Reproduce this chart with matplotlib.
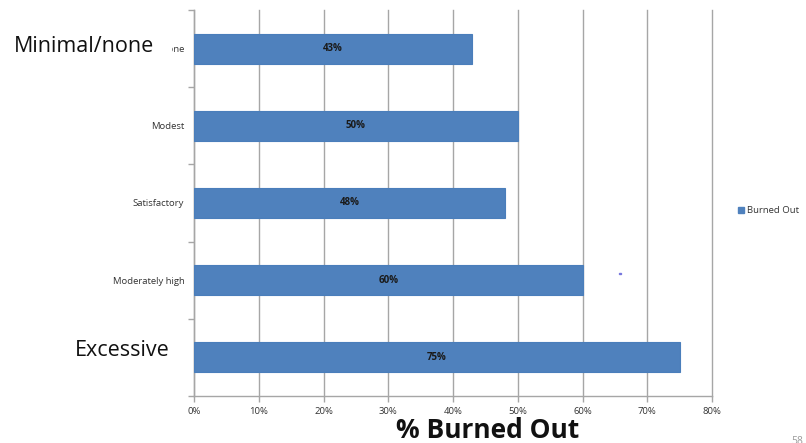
import matplotlib
matplotlib.use("Agg")
import matplotlib.pyplot as plt
import matplotlib.patches as patches
from matplotlib.ticker import FixedLocator

categories = ["Minimal/none", "Modest", "Satisfactory", "Moderately high", "Excessive"]
burned_out = [43, 50, 48, 60, 75]
x_ticks = [0, 10, 20, 30, 40, 50, 60, 70, 80]

BAR = "#4F81BD"
EDGE = "#4A7EBB"
GRID = "#A6A6A6"

plt.rcParams["font.family"] = ["Open Sans", "DejaVu Sans"]

fig = plt.figure(figsize=(8.06, 4.43), dpi=100)
ax = fig.add_axes([194 / 806, 1 - 396 / 443, (712 - 194) / 806, (396 - 10) / 443])

ypos = list(range(len(categories)))
bars = ax.barh(ypos, burned_out, height=0.39, color=BAR, edgecolor=EDGE,
               linewidth=0.8, label="Burned Out", zorder=3)
for b, v in zip(bars, burned_out):
    ax.text(v / 2, b.get_y() + b.get_height() / 2, f"{v}%", ha="center",
            va="center", fontsize=7, fontweight="bold", color="#1a1a1a", zorder=4)

ax.set_xlim(0, 80)
ax.set_ylim(len(categories) - 0.5, -0.5)
ax.set_xticks(x_ticks)
ax.set_xticklabels([f"{t}%" for t in x_ticks], fontsize=6.8, color="#333333")
ax.set_yticks(ypos)
ax.set_yticklabels(categories, fontsize=6.8, color="#333333")
ax.yaxis.set_minor_locator(FixedLocator([i - 0.5 for i in range(len(categories) + 1)]))
ax.tick_params(axis="y", which="major", length=0, pad=7)
ax.tick_params(axis="y", which="minor", length=4, color=GRID, width=1)
ax.tick_params(axis="x", length=4, color=GRID, width=1, pad=4)
ax.grid(axis="x", color=GRID, linewidth=1, zorder=0)
for gl in ax.get_xgridlines():
    gl.set_clip_on(False)
for s in ["top", "right"]:
    ax.spines[s].set_visible(False)
for s in ["left", "bottom"]:
    ax.spines[s].set_color(GRID)
    ax.spines[s].set_linewidth(1)

# legend entry on the right
fig.patches.append(patches.Rectangle((738 / 806, 1 - 213 / 443), 6 / 806, 6 / 443,
                                     transform=fig.transFigure, color=BAR))
fig.text(747 / 806, 1 - 210 / 443, "Burned Out", fontsize=6.8, color="#333333",
         va="center", ha="left")

# stray speck to the right of the fourth bar
fig.patches.append(patches.Rectangle((619 / 806, 1 - 274 / 443), 2 / 806, 1.2 / 443,
                                     transform=fig.transFigure, color="#7777dd"))

# large overlay labels on white boxes
fig.patches.append(patches.Rectangle((0, 1 - 62 / 443), 171 / 806, 30 / 443,
                                     transform=fig.transFigure, color="white", zorder=5))
fig.text(14 / 806, 1 - 47 / 443, "Minimal/none", fontsize=15.5, color="#111111",
         va="center", ha="left", zorder=6)
fig.patches.append(patches.Rectangle((0, 1 - 372 / 443), 190 / 806, 34 / 443,
                                     transform=fig.transFigure, color="white", zorder=5))
fig.text(75 / 806, 1 - 350 / 443, "Excessive", fontsize=15.5, color="#111111",
         va="center", ha="left", zorder=6)

fig.text(488 / 806, 1 - 431 / 443, "% Burned Out", fontsize=19, fontweight="bold",
         color="#111111", va="center", ha="center")
fig.text(791 / 806, 1 - 436 / 443, "58", fontsize=7.5, color="#999999",
         va="top", ha="left")

fig.savefig("out.png", dpi=100)
